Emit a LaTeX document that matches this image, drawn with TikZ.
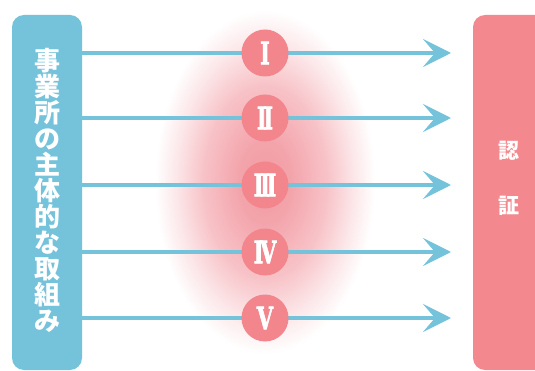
\documentclass[tikz,border=0pt]{standalone}
\usepackage{fontspec}
\newfontfamily\cjk{Noto Sans CJK JP}
\newfontfamily\romfont{DejaVu Serif Bold}[FakeBold=2.5]
\usetikzlibrary{arrows.meta}
\definecolor{bluec}{HTML}{74C3DB}
\definecolor{pinkbox}{HTML}{F3888E}
\definecolor{pinkcirc}{HTML}{F2868C}
\definecolor{glowc}{HTML}{F29AA2}
\pgfdeclareradialshading{glowshade}{\pgfpoint{0bp}{0bp}}{%
  color(0bp)=(glowc); color(6bp)=(glowc!90!white); color(14bp)=(glowc!60!white);
  color(20bp)=(glowc!25!white); color(25bp)=(white); color(50bp)=(white)}
\newcommand{\rn}[1]{\scalebox{0.68}[1]{#1}}
\newcommand{\kk}{\kern-0.16em}
\tikzset{
  sidebox/.style={rounded corners=12pt, draw=none},
  flow/.style={bluec, line width=4.5pt, -{Stealth[length=28pt, width=28pt, inset=12pt]}},
  numcirc/.style={circle, fill=pinkcirc, minimum size=47pt, inner sep=0pt, text=white, font=\romfont\fontsize{31}{31}\selectfont},
  vtext/.style={text=white, align=center, inner sep=0pt}
}
\begin{document}
\begin{tikzpicture}[x=1pt, y=-1pt]
\useasboundingbox (0,0) rectangle (535,371);
\fill[white] (0,0) rectangle (535,371);
% glow
\shade[shading=glowshade] (265,182) ellipse [x radius=110, y radius=172];
% boxes
\fill[bluec, sidebox] (12,15) rectangle (82,370);
\fill[pinkbox, sidebox] (473,15) rectangle (560,370);
\node[vtext, font=\cjk\bfseries\fontsize{26}{26}\selectfont] (left) at (47,190)
  {事\\業\\所\\の\\主\\体\\的\\な\\取\\組\\み};
\node[vtext, font=\cjk\bfseries\fontsize{21}{55}\selectfont] (right) at (509,178) {認\\証};
% arrows
\foreach \y/\n in {53/1,118/2,185/3,252/4,318/5}{
  \coordinate (s\n) at (82,\y);
  \coordinate (e\n) at (451,\y);
  \draw[flow] (s\n) -- (e\n);
}
\node[numcirc] (c1) at (265,53) {\rn{I}};
\node[numcirc] (c2) at (265,118) {\rn{I\kk I}};
\node[numcirc] (c3) at (265,185) {\rn{I\kk I\kk I}};
\node[numcirc] (c4) at (265,252) {\rn{I\kk V}};
\node[numcirc] (c5) at (265,318) {\rn{V}};
\end{tikzpicture}
\end{document}
